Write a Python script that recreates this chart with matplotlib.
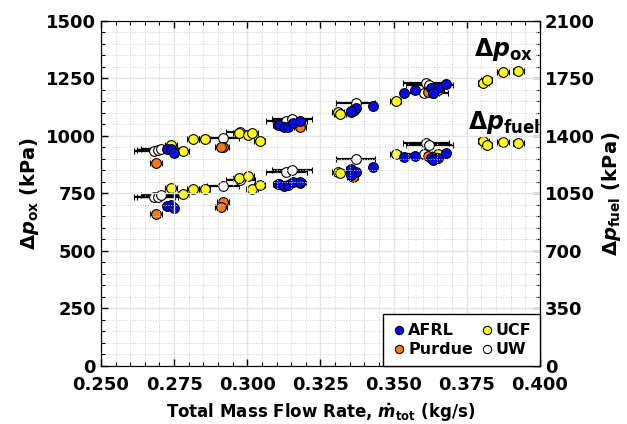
import matplotlib
matplotlib.use("Agg")
import matplotlib.pyplot as plt
from matplotlib.ticker import MultipleLocator

plt.rcParams['font.family'] = ['DejaVu Sans']
plt.rcParams['font.weight'] = 'bold'
plt.rcParams['axes.labelweight'] = 'bold'
plt.rcParams['mathtext.fontset'] = 'custom'
plt.rcParams['mathtext.rm'] = 'DejaVu Sans:bold'
plt.rcParams['mathtext.bf'] = 'DejaVu Sans:bold'
plt.rcParams['mathtext.it'] = 'DejaVu Sans:bold:italic'

# ---------------- data ----------------
afrl_x = [0.2725, 0.2740, 0.2748, 0.3104, 0.3110, 0.3124, 0.3138, 0.3155, 0.3181,
          0.3353, 0.3370, 0.3355, 0.3431, 0.3537, 0.3575, 0.3628, 0.3651, 0.3680, 0.3634]
afrl_ox = [941, 941, 927, 1047, 1047, 1040, 1037, 1057, 1064,
           1105, 1122, 1110, 1131, 1187, 1199, 1206, 1206, 1224, 1188]
afrl_fuel = [973, 979, 959, 1107, 1107, 1095, 1101, 1121, 1121,
             1196, 1182, 1162, 1208, 1269, 1277, 1263, 1267, 1294, 1253]
afrl_xerr = [0.001, 0.001, 0.001, 0.0015, 0.0015, 0.0015, 0.0015, 0.0015, 0.0015,
             0.0015, 0.0015, 0.0015, 0.0012, 0.0012, 0.0012, 0.0012, 0.0012, 0.0012, 0.0012]

purdue_x = [0.2689, 0.2916, 0.2911, 0.3181, 0.3360, 0.3617, 0.3634]
purdue_ox = [883, 953, 950, 1040, 1108, 1192, 1185]
purdue_fuel = [923, 999, 969, 1110, 1151, 1277, 1269]
purdue_xerr = [0.002, 0.002, 0.002, 0.002, 0.002, 0.002, 0.002]

ucf_x = [0.2740, 0.2782, 0.2814, 0.2854, 0.2971, 0.3002, 0.3017, 0.3042,
         0.3309, 0.3318, 0.3507, 0.3651, 0.3807, 0.3818, 0.3875, 0.3927]
ucf_ox = [959, 934, 985, 985, 1011, 1003, 1013, 977,
          1105, 1095, 1152, 1200, 1231, 1242, 1277, 1283]
ucf_fuel = [1084, 1044, 1077, 1077, 1142, 1157, 1075, 1101,
            1182, 1176, 1289, 1289, 1368, 1344, 1364, 1354]
ucf_xerr = [0.002, 0.002, 0.002, 0.002, 0.002, 0.002, 0.002, 0.002,
            0.002, 0.002, 0.002, 0.002, 0.002, 0.002, 0.002, 0.002]

uw_x = [0.2683, 0.2694, 0.2706, 0.2916, 0.2976, 0.3133, 0.3153, 0.3370, 0.3605, 0.3611, 0.3622]
uw_ox = [934, 938, 943, 992, 1018, 1066, 1072, 1144, 1185, 1231, 1221]
uw_fuel = [1026, 1030, 1040, 1097, 1131, 1182, 1192, 1259, 1290, 1354, 1344]
uw_xerr = [0.007, 0.007, 0.007, 0.0055, 0.005, 0.007, 0.007, 0.0068, 0.008, 0.008, 0.008]

labs = ['UW', 'UCF', 'Purdue', 'AFRL']
colors = {'AFRL': '#0808f5', 'Purdue': '#f57a14', 'UCF': '#ffff14', 'UW': '#ffffff'}
data = {
    'AFRL': (afrl_x, afrl_ox, afrl_fuel, afrl_xerr),
    'Purdue': (purdue_x, purdue_ox, purdue_fuel, purdue_xerr),
    'UCF': (ucf_x, ucf_ox, ucf_fuel, ucf_xerr),
    'UW': (uw_x, uw_ox, uw_fuel, uw_xerr),
}

x_ticks = [0.250, 0.275, 0.300, 0.325, 0.350, 0.375, 0.400]
ox_ticks = [0, 250, 500, 750, 1000, 1250, 1500]
fuel_ticks = [0, 350, 700, 1050, 1400, 1750, 2100]

# ---------------- figure ----------------
fig = plt.figure(figsize=(6.27, 4.24), dpi=100)
ax = fig.add_axes([0.161, 0.137, 0.700, 0.814])
ax2 = ax.twinx()

ax.set_xlim(0.25, 0.40)
ax.set_ylim(0, 1500)
ax2.set_ylim(0, 2100)

ekw = dict(fmt='o', ms=7, mec='black', mew=0.8, ecolor='black',
           elinewidth=1.6, capsize=2.5, capthick=1.6)
handles = {}
for lab in labs:
    x, ox, fu, xe = data[lab]
    ax.errorbar(x, ox, xerr=xe, mfc=colors[lab], zorder=3, **ekw)
    ax2.errorbar(x, fu, xerr=xe, mfc=colors[lab], zorder=3, **ekw)
    h, = ax.plot([], [], 'o', ms=7, mfc=colors[lab], mec='black', mew=0.8)
    handles[lab] = h

ax.set_xticks(x_ticks)
ax.set_xticklabels([f'{t:.3f}' for t in x_ticks])
ax.set_yticks(ox_ticks)
ax2.set_yticks(fuel_ticks)
ax.xaxis.set_minor_locator(MultipleLocator(0.005))
ax.yaxis.set_minor_locator(MultipleLocator(50))
ax2.yaxis.set_minor_locator(MultipleLocator(70))

ax.tick_params(axis='both', which='both', direction='in', top=True, labelsize=13)
ax.tick_params(axis='x', which='major', pad=7)
ax.tick_params(which='major', length=5, width=1)
ax.tick_params(which='minor', length=3, width=0.8)
ax2.tick_params(axis='y', which='both', direction='in', labelsize=13)
ax2.tick_params(which='major', length=5, width=1)
ax2.tick_params(which='minor', length=3, width=0.8)

ax.grid(which='major', color='#e3e3e3', lw=1.0, zorder=0)
ax.grid(which='minor', color='#cfcfcf', lw=0.7, ls=':', zorder=0)
ax.set_axisbelow(True)

ax.set_xlabel(r'Total Mass Flow Rate, $\dot{\mathit{m}}_{\mathrm{tot}}$ (kg/s)', fontsize=12, labelpad=6)
ax.set_ylabel(r'$\mathit{\Delta p}_{\mathrm{ox}}$ (kPa)', fontsize=14, labelpad=4)
ax2.set_ylabel(r'$\mathit{\Delta p}_{\mathrm{fuel}}$ (kPa)', fontsize=14, labelpad=4)

ax.text(0.3875, 1375, r'$\mathit{\Delta p}_{\mathrm{ox}}$', fontsize=17, ha='center', va='center')
ax.text(0.3877, 1060, r'$\mathit{\Delta p}_{\mathrm{fuel}}$', fontsize=17, ha='center', va='center')

leg = ax.legend([handles['AFRL'], handles['Purdue'], handles['UCF'], handles['UW']],
                ['AFRL', 'Purdue', 'UCF', 'UW'], ncol=2, loc='lower right',
                bbox_to_anchor=(1, 0), borderaxespad=0, fancybox=False,
                edgecolor='black', framealpha=1, fontsize=11.5,
                handletextpad=0.05, columnspacing=0.35, handlelength=1.0,
                markerscale=0.85, borderpad=0.55, labelspacing=0.25)
leg.get_frame().set_linewidth(1.0)
leg.set_zorder(10)
ax.set_zorder(ax2.get_zorder() + 1)
ax.patch.set_visible(False)

fig.savefig('out.png', dpi=100)
